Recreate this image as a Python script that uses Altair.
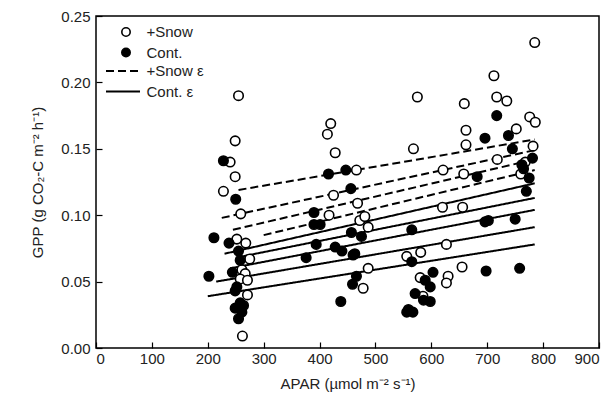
import altair as alt
import pandas as pd

# ---- +Snow (open circles) ----
snow_apar = [255, 249, 240, 249, 228, 259, 252, 268, 275, 261, 267, 258, 271, 271, 262,
             420, 414, 428, 466, 425, 468, 417, 472, 481, 487, 487, 478, 556,
             575, 659, 717, 662, 662, 568, 718, 621, 658, 620, 656, 627, 581, 655, 630, 580, 627, 585,
             712, 735, 776, 786, 782, 785, 752, 768, 760]
snow_gpp = [0.190, 0.156, 0.140, 0.129, 0.118, 0.101, 0.082, 0.079, 0.067, 0.059, 0.056, 0.052, 0.051, 0.040, 0.009,
            0.169, 0.161, 0.147, 0.134, 0.115, 0.109, 0.100, 0.096, 0.099, 0.091, 0.060, 0.045, 0.069,
            0.189, 0.184, 0.189, 0.164, 0.153, 0.150, 0.142, 0.134, 0.131, 0.106, 0.106, 0.078, 0.072, 0.061, 0.054, 0.053, 0.049, 0.039,
            0.205, 0.186, 0.174, 0.170, 0.152, 0.230, 0.165, 0.140, 0.131]

# ---- Cont. (filled circles) ----
cont_apar = [228, 250, 211, 238, 255, 258, 244, 202, 252, 249, 258, 264, 249, 261, 255,
             416, 447, 456, 390, 390, 401, 457, 475, 394, 428, 440, 460, 463, 376, 466, 459, 438, 556,
             717, 696, 682, 696, 702, 565, 565, 603, 698, 589, 598, 571, 586, 598, 559, 567,
             745, 762, 775, 770, 781, 765, 750, 758, 738]
cont_gpp = [0.141, 0.112, 0.083, 0.079, 0.073, 0.066, 0.057, 0.054, 0.046, 0.043, 0.034, 0.032, 0.030, 0.027, 0.022,
            0.131, 0.134, 0.120, 0.102, 0.093, 0.093, 0.087, 0.084, 0.078, 0.076, 0.073, 0.070, 0.071, 0.068, 0.054, 0.048, 0.035, 0.027,
            0.175, 0.158, 0.129, 0.095, 0.096, 0.089, 0.065, 0.057, 0.058, 0.051, 0.046, 0.041, 0.036, 0.035, 0.029, 0.027,
            0.150, 0.138, 0.128, 0.118, 0.143, 0.135, 0.097, 0.060, 0.160]

# ---- light-use-efficiency regression lines (start / end) ----
snow_line_x0 = [255, 225, 245, 300]
snow_line_y0 = [0.119, 0.098, 0.089, 0.085]
snow_line_x1 = [785, 785, 785, 785]
snow_line_y1 = [0.157, 0.149, 0.142, 0.134]

cont_line_x0 = [230, 250, 240, 215, 200]
cont_line_y0 = [0.071, 0.068, 0.060, 0.050, 0.039]
cont_line_x1 = [785, 785, 785, 785, 785]
cont_line_y1 = [0.124, 0.113, 0.104, 0.091, 0.078]

x_ticks = list(range(0, 901, 100))
y_ticks = [0.0, 0.05, 0.10, 0.15, 0.20, 0.25]

FONT = "Liberation Sans"

pts = pd.concat([
    pd.DataFrame({"apar": snow_apar, "gpp": snow_gpp, "treat": "+Snow"}),
    pd.DataFrame({"apar": cont_apar, "gpp": cont_gpp, "treat": "Cont."}),
])

rows = []
for i, (a, b, c, d) in enumerate(zip(snow_line_x0, snow_line_y0, snow_line_x1, snow_line_y1)):
    rows += [{"id": f"s{i}", "apar": a, "gpp": b, "treat": "+Snow ε"},
             {"id": f"s{i}", "apar": c, "gpp": d, "treat": "+Snow ε"}]
for i, (a, b, c, d) in enumerate(zip(cont_line_x0, cont_line_y0, cont_line_x1, cont_line_y1)):
    rows += [{"id": f"c{i}", "apar": a, "gpp": b, "treat": "Cont. ε"},
             {"id": f"c{i}", "apar": c, "gpp": d, "treat": "Cont. ε"}]
lines = pd.DataFrame(rows)

xs = alt.Scale(domain=[0, 900], nice=False, zero=False)
ys = alt.Scale(domain=[0, 0.25], nice=False, zero=False)

xaxis = alt.Axis(values=x_ticks, title="APAR (µmol m⁻² s⁻¹)", format="d", grid=False,
                 domain=False, offset=-6, tickSize=6, tickWidth=1.2, tickColor="black",
                 labelPadding=3, labelFontSize=15, labelColor="#222", titleFontSize=15,
                 titleFontWeight="normal", titleColor="#222", titlePadding=10, labelFont=FONT, titleFont=FONT)
yaxis = alt.Axis(values=y_ticks, title="GPP (g CO₂-C m⁻² h⁻¹)", format=".2f", grid=False,
                 domain=False, offset=-6, tickSize=6, tickWidth=1.2, tickColor="black",
                 labelPadding=6, labelFontSize=15, labelColor="#222", titleFontSize=15,
                 titleFontWeight="normal", titleColor="#222", titlePadding=15, labelFont=FONT, titleFont=FONT)

line_layer = alt.Chart(lines).mark_line(color="black", strokeWidth=2).encode(
    x=alt.X("apar:Q", scale=xs, axis=xaxis),
    y=alt.Y("gpp:Q", scale=ys, axis=yaxis),
    detail="id:N",
    strokeDash=alt.StrokeDash("treat:N",
        scale=alt.Scale(domain=["+Snow ε", "Cont. ε"], range=[[8, 4], [1, 0]]),
        legend=alt.Legend(orient="none", legendX=19.5, legendY=47.5, title=None,
                          symbolType="M-3.4,0H3.4", symbolSize=100, symbolStrokeWidth=2,
                          symbolStrokeColor="black", labelFontSize=15, labelFont=FONT,
                          labelColor="#222", labelOffset=16, rowPadding=4.5, padding=0)),
)

pt_layer = alt.Chart(pts).mark_point(shape="circle", filled=True, stroke="black",
                                     strokeWidth=1.6, size=90, opacity=1).encode(
    x=alt.X("apar:Q", scale=xs),
    y=alt.Y("gpp:Q", scale=ys),
    fill=alt.Fill("treat:N",
        scale=alt.Scale(domain=["+Snow", "Cont."], range=["white", "black"]),
        legend=alt.Legend(orient="none", legendX=22.5, legendY=8.5, title=None,
                          symbolType="circle", symbolSize=70, symbolStrokeWidth=1.6,
                          symbolStrokeColor="black", labelFontSize=15, labelFont=FONT,
                          labelColor="#222", labelOffset=13, rowPadding=4.5, padding=0)),
)

chart = alt.layer(line_layer, pt_layer).resolve_legend(
    fill="independent", strokeDash="independent"
).properties(
    width=503, height=332,
    autosize=alt.AutoSizeParams(type="none"),
    padding={"left": 88, "top": 8, "right": 7, "bottom": 48},
    background="white",
).configure_view(stroke="black", strokeWidth=1.5).configure_legend(symbolFillColor="white")

chart.save("out.html", embed_options={"renderer": "svg", "actions": False})
